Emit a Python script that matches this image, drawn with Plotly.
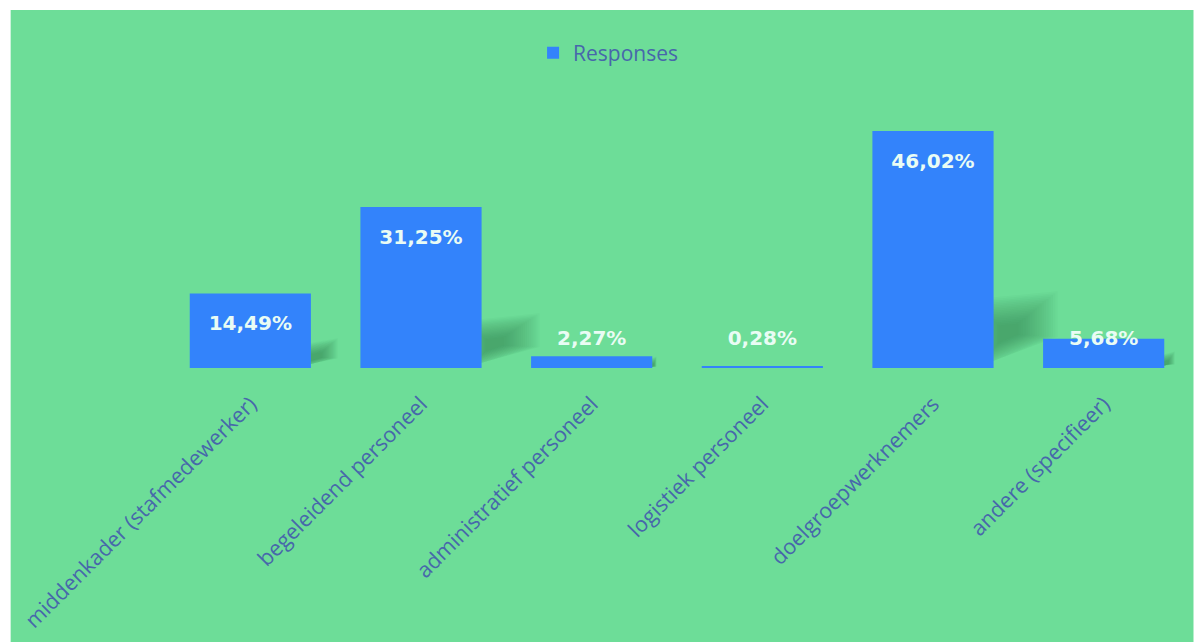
import plotly.graph_objects as go

# Survey responses per staff category (percent)
categories = [
    "middenkader (stafmedewerker)",
    "begeleidend personeel",
    "administratief personeel",
    "logistiek personeel",
    "doelgroepwerknemers",
    "andere (specifieer)",
]
responses = [14.49, 31.25, 2.27, 0.28, 46.02, 5.68]
labels = [f"{v:.2f}%".replace(".", ",") for v in responses]
series_name = "Responses"

# Page geometry (pixels)
W, H = 1194, 642
ML, MR, MT, MB = 164.5, 4.5, 100, 274
plot_w = W - ML - MR
plot_h = H - MT - MB
Y_MAX = 52.04
px_per_unit = plot_h / Y_MAX
cat_px = plot_w / len(categories)
BAR_GAP = 0.29
half_bar = (1 - BAR_GAP) / 2

BG_GREEN = "#6ddd98"
BAR_BLUE = "#3383fb"
TEXT_BLUE = "#4767ab"
LABEL_WHITE = "#e9fcf4"

fig = go.Figure()

fig.add_trace(go.Bar(
    x=list(range(len(categories))),
    y=responses,
    name=series_name,
    marker=dict(color=BAR_BLUE, line=dict(width=0)),
    width=1 - BAR_GAP,
))

# value labels: inside the top of tall bars, at a floor level for short ones
lab_y = [max(v - 32 / px_per_unit, 28 / px_per_unit) for v in responses]
fig.add_trace(go.Scatter(
    x=list(range(len(categories))),
    y=lab_y,
    mode="text",
    text=labels,
    textfont=dict(family="DejaVu Sans", size=20, color=LABEL_WHITE, weight="bold"),
    showlegend=False,
    hoverinfo="skip",
))

shapes = []
# green panel behind the whole chart, inset from the white page
shapes.append(dict(
    type="rect", xref="paper", yref="paper", layer="below",
    x0=(10 - ML) / plot_w, x1=(W - ML) / plot_w,
    y0=-(MB) / plot_h, y1=(H - MB - 10) / plot_h,
    fillcolor=BG_GREEN, line=dict(width=0),
))

# soft cast shadow to the right of each bar: translucent layers shrinking
# toward a common centre so the edges fade out
for i, v in enumerate(responses):
    hpx = v * px_per_unit
    if hpx < 5:
        continue
    xr = i + half_bar
    sh = 0.29 * hpx
    wpx = min(0.36 * hpx, 64)
    pts_px = [(-20, -4), (-20, sh), (wpx, sh + 8), (wpx, sh * 0.45)]
    cx, cy = wpx * 0.2, sh * 0.5
    n_layers = 18
    for k in range(n_layers):
        f = 1 - k * 0.045
        pts = []
        for px, py in pts_px:
            sx = cx + (px - cx) * f
            sy = cy + (py - cy) * f
            pts.append((xr + sx / cat_px, max(sy, 0) / px_per_unit))
        path = "M " + " L ".join(f"{x},{y}" for x, y in pts) + " Z"
        shapes.append(dict(
            type="path", xref="x", yref="y", layer="below", path=path,
            fillcolor="rgba(40,115,75,0.04)", line=dict(width=0),
        ))

fig.update_layout(
    width=W, height=H,
    margin=dict(l=ML, r=MR, t=MT, b=MB, pad=0),
    paper_bgcolor="white",
    plot_bgcolor="rgba(0,0,0,0)",
    shapes=shapes,
    bargap=BAR_GAP,
    showlegend=True,
    legend=dict(
        orientation="h",
        x=(608 - ML) / plot_w, xanchor="center",
        y=1 + (MT - 53) / plot_h, yanchor="middle",
        font=dict(family="Open Sans", size=21, color=TEXT_BLUE),
        bgcolor="rgba(0,0,0,0)",
        itemsizing="constant",
    ),
    xaxis=dict(
        tickmode="array",
        tickvals=list(range(len(categories))),
        ticktext=categories,
        tickangle=-45,
        range=[-0.5, len(categories) - 0.5],
        showgrid=False, zeroline=False, showline=False,
        ticks="outside", ticklen=14, tickcolor="rgba(0,0,0,0)",
        tickfont=dict(family="Open Sans", size=21.5, color=TEXT_BLUE),
    ),
    yaxis=dict(
        range=[0, Y_MAX],
        visible=False,
        showgrid=False, zeroline=False,
    ),
)

fig.write_html("out.html")
